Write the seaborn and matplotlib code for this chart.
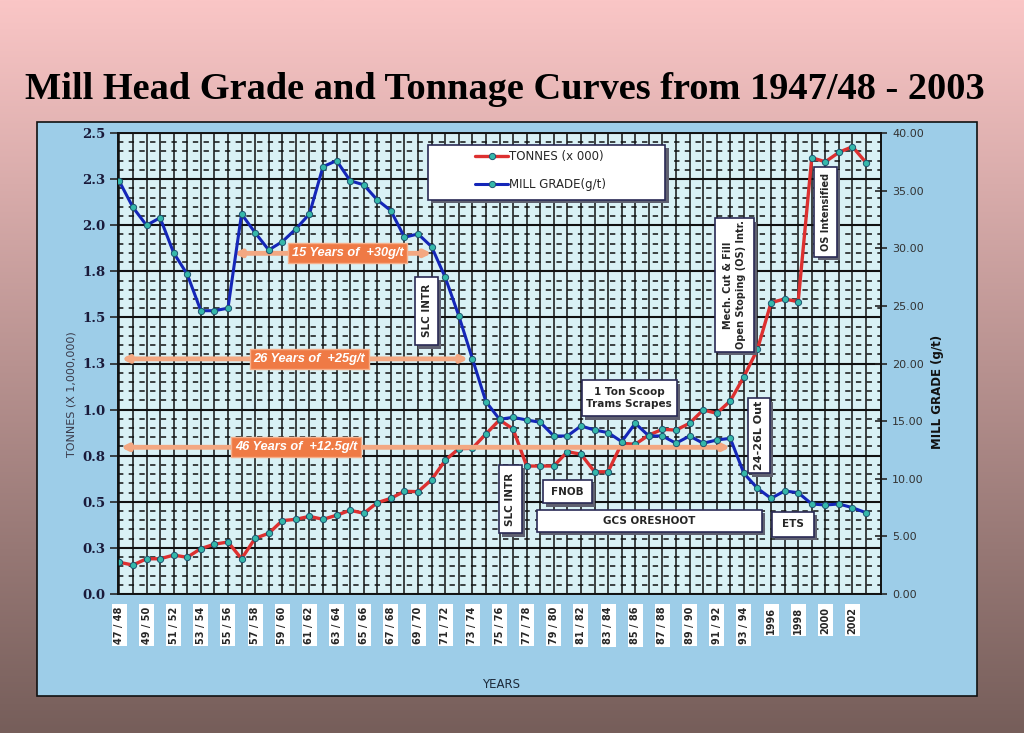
import numpy as np
import pandas as pd
import matplotlib
matplotlib.use("Agg")
import matplotlib.pyplot as plt
from matplotlib.patches import Rectangle
from matplotlib.ticker import MultipleLocator
import seaborn as sns

# tonnes milled (millions) per year, 1947/48 .. 2003
tonnes = [0.172, 0.157, 0.191, 0.191, 0.211, 0.199, 0.246, 0.270, 0.282, 0.191,
          0.302, 0.329, 0.398, 0.405, 0.421, 0.405, 0.427, 0.454, 0.438, 0.495,
          0.519, 0.557, 0.555, 0.620, 0.725, 0.788, 0.790, 0.868, 0.944, 0.895,
          0.694, 0.694, 0.694, 0.772, 0.758, 0.663, 0.663, 0.817, 0.812, 0.862,
          0.893, 0.889, 0.926, 0.998, 0.980, 1.047, 1.178, 1.327, 1.580, 1.600,
          1.585, 2.366, 2.344, 2.395, 2.426, 2.339]
# mill head grade (g/t)
grade = [35.8, 33.55, 31.99, 32.65, 29.6, 27.74, 24.58, 24.58, 24.8, 32.97,
         31.35, 29.85, 30.57, 31.67, 32.97, 37.08, 37.6, 35.86, 35.5, 34.19,
         33.26, 30.95, 31.24, 30.13, 27.48, 24.15, 20.42, 16.69, 15.16, 15.33,
         15.1, 14.9, 13.71, 13.71, 14.58, 14.23, 14.0, 13.22, 14.81, 13.71,
         13.71, 13.08, 13.71, 13.08, 13.36, 13.51, 10.47, 9.17, 8.3, 8.94,
         8.79, 7.81, 7.72, 7.81, 7.49, 7.05]
year_labels = ["47 / 48", "49 / 50", "51 / 52", "53 / 54", "55 / 56", "57 / 58",
               "59 / 60", "61 / 62", "63 / 64", "65 / 66", "67 / 68", "69 / 70",
               "71 / 72", "73 / 74", "75 / 76", "77 / 78", "79 / 80", "81 / 82",
               "83 / 84", "85 / 86", "87 / 88", "89 / 90", "91 / 92", "93 / 94",
               "1996", "1998", "2000", "2002"]
tonne_ticks = [0, 0.25, 0.5, 0.75, 1.0, 1.25, 1.5, 1.75, 2.0, 2.25, 2.5]
tonne_tick_labels = ["0.0", "0.3", "0.5", "0.8", "1.0", "1.3", "1.5", "1.8", "2.0", "2.3", "2.5"]
grade_ticks = [0, 5, 10, 15, 20, 25, 30, 35, 40]

sns.set_style("white")
plt.rcParams['font.family'] = ['DejaVu Sans']

df = pd.DataFrame({"idx": np.arange(len(tonnes)), "tonnes": tonnes, "grade": grade})

fig = plt.figure(figsize=(10.24, 7.33), dpi=100)

# pink -> brown background
bg = fig.add_axes([0, 0, 1, 1], zorder=-10)
top_c = np.array([250, 198, 198]) / 255
bot_c = np.array([118, 94, 90]) / 255
g = np.linspace(0, 1, 256)[:, None, None]
bg.imshow(top_c + (bot_c - top_c) * g, aspect='auto', extent=[0, 1, 0, 1])
bg.axis('off')

# blue chart panel
fig.add_artist(Rectangle((37 / 1024, 1 - 696 / 733), 940 / 1024, 574 / 733,
                         transform=fig.transFigure, facecolor='#9dcde8',
                         edgecolor='#111111', lw=1.2, zorder=-5))

ax = fig.add_axes([118 / 1024, 1 - 594 / 733, 763 / 1024, 461 / 733])
ax.set_facecolor('#d9f1f5')

mk = dict(marker='o', markersize=4.5, markerfacecolor='#35b8aa',
          markeredgecolor='#1c5470', markeredgewidth=0.7)
sns.lineplot(data=df, x='idx', y='tonnes', ax=ax, color='#dd3030', lw=2.4,
             label='TONNES (x 000)', legend=False, zorder=4, **mk)

ax2 = ax.twinx()
sns.lineplot(data=df, x='idx', y='grade', ax=ax2, color='#1426b8', lw=2.2,
             label='MILL GRADE(g/t)', legend=False, zorder=4, **mk)

ax.set_xlim(-0.1, 56.1)
ax.set_ylim(0, 2.5)
ax2.set_ylim(0, 40)

# grid
ax.set_xticks(range(0, 56, 2))
ax.set_xticks(range(1, 56, 2), minor=True)
ax.set_yticks(tonne_ticks)
ax.yaxis.set_minor_locator(MultipleLocator(0.05))
ax.xaxis.grid(True, which='both', color='#111111', lw=1.1)
ax.yaxis.grid(True, which='major', color='#111111', lw=1.5)
ax.yaxis.grid(True, which='minor', color='#111111', lw=1.1, ls=(0, (3.5, 3.5)))
ax.set_axisbelow(True)

ax.set_yticklabels(tonne_tick_labels, fontfamily='DejaVu Serif', fontweight='bold',
                   fontsize=9.5, color='#1a1a3a')
ax.tick_params(axis='y', which='major', direction='out', length=6, width=1.2, pad=3)
ax.tick_params(axis='y', which='minor', length=0)
ax.set_xticklabels(year_labels, rotation=90, fontsize=7, fontweight='bold', va='top')
for t in ax.get_xticklabels():
    t.set_bbox(dict(facecolor='white', edgecolor='none', pad=1.8))
ax.tick_params(axis='x', which='both', direction='out', length=6, width=1.2, pad=3)

ax2.set_yticks(grade_ticks)
ax2.set_yticklabels([f"{v:.2f}" for v in grade_ticks], fontsize=8, color='#333333')
ax2.tick_params(axis='y', direction='inout', length=8, width=1.2, pad=4)
ax2.grid(False)
ax.set_xlabel('')
ax.set_ylabel('')
ax2.set_ylabel('')
for a in (ax, ax2):
    for s in a.spines.values():
        s.set_color('#111111')
        s.set_linewidth(1.2)

# orange "years of" arrows (grade axis units)
arrows = [(8.44, 23.0, 29.56, 16.8, "15 Years of  +30g/t"),
          (0.16, 25.7, 20.4, 14.0, "26 Years of  +25g/t"),
          (0.10, 45.0, 12.73, 13.0, "46 Years of  +12.5g/t")]
for x0, x1, y, xc, txt in arrows:
    ax2.annotate('', xy=(x1, y), xytext=(x0, y),
                 arrowprops=dict(arrowstyle='<|-|>', color='#f3a882', lw=3.5,
                                 mutation_scale=9, shrinkA=0, shrinkB=0), zorder=2)
    ax2.text(xc, y, txt, ha='center', va='center', color='white', fontsize=9.2,
             fontweight='bold', fontstyle='italic', fontfamily='Liberation Sans', zorder=3,
             bbox=dict(boxstyle='square,pad=0.3', facecolor='#ef7a45',
                       edgecolor='#f6b08c', lw=1))


def box(x0, x1, y0, y1):
    # white box with shadow, given in index / tonnes units, drawn on the grade axis
    g0, g1 = y0 * 16, y1 * 16
    ax2.add_patch(Rectangle((x0 + 0.25, g0 - 0.3), x1 - x0, g1 - g0,
                            facecolor='#5f6070', edgecolor='none', zorder=6))
    ax2.add_patch(Rectangle((x0, g0), x1 - x0, g1 - g0, facecolor='white',
                            edgecolor='#2a2a55', lw=1.2, zorder=7))
    return (x0 + x1) / 2, (g0 + g1) / 2


def note(x0, x1, y0, y1, text, rotation=0, size=7.5):
    cx, cy = box(x0, x1, y0, y1)
    ax2.text(cx, cy, text, rotation=rotation, ha='center',
             va='center', fontsize=size, fontweight='bold', zorder=8, linespacing=1.3)


note(21.78, 23.47, 1.350, 1.721, "SLC INTR", 90)
note(43.88, 46.71, 1.314, 2.037, "Mech. Cut & Fill\nOpen Stoping (OS) Intr.", 90, 7)
note(51.20, 52.85, 1.829, 2.317, "OS Intensified", 90, 7)
note(34.06, 41.06, 0.965, 1.160, "1 Ton Scoop\nTrams Scrapes", 0, 7.5)
note(46.34, 47.89, 0.655, 1.061, "24-26L Out", 90, 8)
note(27.97, 29.64, 0.329, 0.700, "SLC INTR", 90)
note(31.19, 34.80, 0.492, 0.618, "FNOB", 0)
note(30.79, 47.33, 0.338, 0.456, "GCS ORESHOOT", 0)
note(48.06, 51.13, 0.311, 0.446, "ETS", 0)

# legend box
box(22.73, 40.2, 2.137, 2.435)
handles = [ax.lines[0], ax2.lines[0]]
leg = ax2.legend(handles, ['TONNES (x 000)', 'MILL GRADE(g/t)'], loc='upper left',
                 bbox_to_anchor=(0.468, 0.963), borderaxespad=0, borderpad=0,
                 frameon=False, fontsize=8.5, handlelength=2.8,
                 labelspacing=1.3, handletextpad=0.1)
leg.set_zorder(10)

fig.text(72 / 1024, 1 - 394 / 733, "TONNES (X 1,000,000)", rotation=90, ha='center',
         va='center', fontsize=8, color='#3a3a4a')
fig.text(938 / 1024, 1 - 392 / 733, "MILL GRADE (g/t)", rotation=90, ha='center',
         va='center', fontsize=8.5, fontweight='bold', color='#111111')
fig.text(501 / 1024, 1 - 684 / 733, "YEARS", ha='center', va='center', fontsize=8.5,
         color='#1c2a3a')
fig.text(505 / 1024, 1 - 99 / 733, "Mill Head Grade and Tonnage Curves from 1947/48 - 2003",
         ha='center', va='baseline', fontsize=27.6, fontweight='bold',
         fontfamily='Liberation Serif', color='black')

fig.savefig("out.png", dpi=100)
